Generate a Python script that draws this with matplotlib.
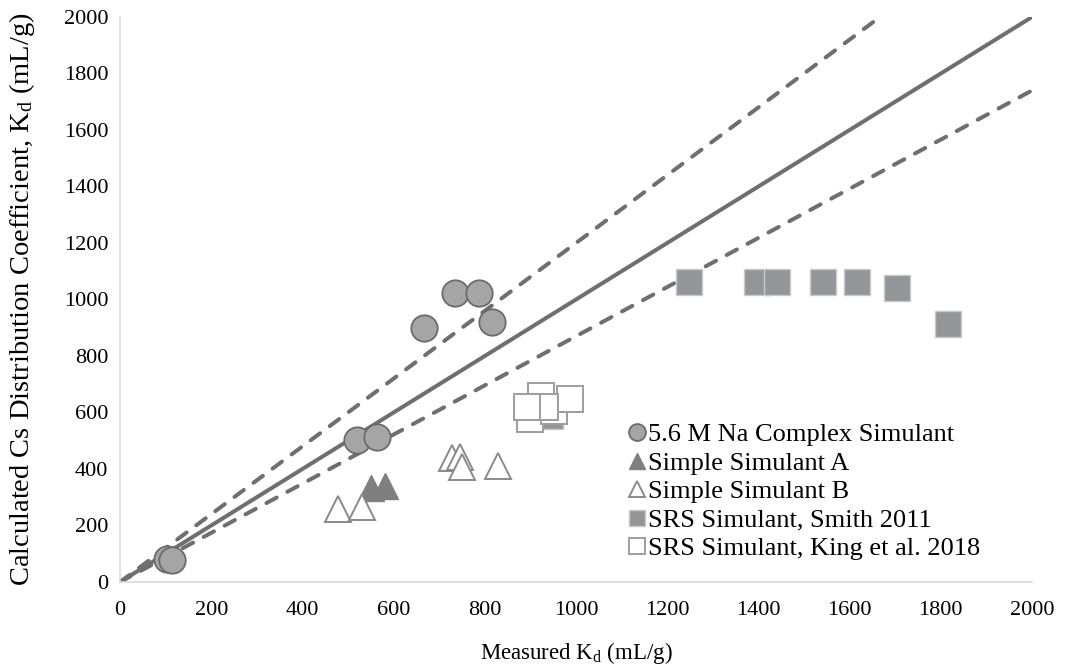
import matplotlib
matplotlib.use("Agg")
import matplotlib.pyplot as plt
import numpy as np

plt.rcParams['font.family'] = ['Liberation Serif', 'DejaVu Serif']
plt.rcParams['mathtext.fontset'] = 'custom'
plt.rcParams['mathtext.rm'] = 'Liberation Serif'
plt.rcParams['mathtext.it'] = 'Liberation Serif:italic'

# ---- data ----
na_x = [104, 113, 519, 564, 667, 735, 788, 815]
na_y = [81, 78, 503, 514, 899, 1022, 1024, 921]

a_x = [550, 581]
a_y = [334, 340]

b_x = [479, 530, 727, 746, 751, 830]
b_y = [259, 264, 439, 441, 408, 411]

smith_x = [944, 1248, 1396, 1440, 1541, 1617, 1705, 1815]
smith_y = [589, 1063, 1063, 1063, 1063, 1063, 1040, 913]

king_x = [899, 952, 987, 923, 932, 893]
king_y = [577, 605, 648, 658, 619, 618]

line_x = [0, 2000]
slope_mid = 1.0
slope_hi = 1.2
slope_lo = 0.87

labels = ["5.6 M Na Complex Simulant", "Simple Simulant A", "Simple Simulant B",
          "SRS Simulant, Smith 2011", "SRS Simulant, King et al. 2018"]
ticks = list(range(0, 2001, 200))

W, H = 1068, 669
fig = plt.figure(figsize=(W / 100, H / 100), dpi=100)
ax = fig.add_axes([120 / W, 1 - 582 / H, 912 / W, 565 / H])

lc = '#6f6f70'
lx = np.array(line_x, dtype=float)
ax.plot(lx, slope_mid * lx, color=lc, lw=2.9, zorder=2, solid_capstyle='butt')
ax.plot(lx, slope_hi * lx, color=lc, lw=2.9, ls=(0, (2.9, 3.0)), zorder=2, dash_capstyle='round')
ax.plot(lx, slope_lo * lx, color=lc, lw=2.9, ls=(0, (2.9, 3.0)), zorder=2, dash_capstyle='round')

ms = 19
ax.plot(na_x, na_y, 'o', ms=ms, mfc='#a5a5a6', mec='#6b6b6c', mew=1.3, zorder=3, label=labels[0])
ax.plot(a_x, a_y, '^', ms=ms, mfc='#7f7f80', mec='#7f7f80', mew=1.0, zorder=3, label=labels[1])
ax.plot(b_x, b_y, '^', ms=ms, mfc='white', mec='#8a8a8b', mew=1.4, zorder=3, label=labels[2])
ax.plot(smith_x, smith_y, 's', ms=ms, mfc='#939598', mec='#c8c9cb', mew=1.0, zorder=3, label=labels[3])
for i, (x, y) in enumerate(zip(king_x, king_y)):
    ax.plot([x], [y], 's', ms=ms, mfc='white', mec='#9d9d9e', mew=1.4, zorder=4,
            label=labels[4] if i == 0 else None)

ax.set_xlim(0, 2000)
ax.set_ylim(0, 2000)
ax.set_xticks(ticks)
ax.set_yticks(ticks)
ax.tick_params(length=0, labelsize=16, colors='black')
ax.tick_params(axis='x', pad=14)
ax.tick_params(axis='y', pad=8.5)
for s in ['top', 'right']:
    ax.spines[s].set_visible(False)
for s in ['left', 'bottom']:
    ax.spines[s].set_color('#d9d9d9')
    ax.spines[s].set_linewidth(1.2)
ax.set_facecolor('white')

ax.set_xlabel("Measured K$_\\mathregular{d}$ (mL/g)", fontsize=16.5, va='center')
ax.xaxis.set_label_coords(0.5, (582 - 653) / 565)
ax.set_ylabel("Calculated Cs Distribution Coefficient, K$_\\mathregular{d}$ (mL/g)", fontsize=20.5, va='center')
ax.yaxis.set_label_coords((22 - 120) / 912, 0.5)

leg = ax.legend(loc='upper left', bbox_to_anchor=(628 / W, 1 - 423 / H), bbox_transform=fig.transFigure,
                frameon=False, fontsize=19, markerscale=0.64, handlelength=0.7, handletextpad=0.07,
                labelspacing=0.19, borderpad=0, borderaxespad=0)

fig.savefig("out.png", dpi=100, facecolor='white')
